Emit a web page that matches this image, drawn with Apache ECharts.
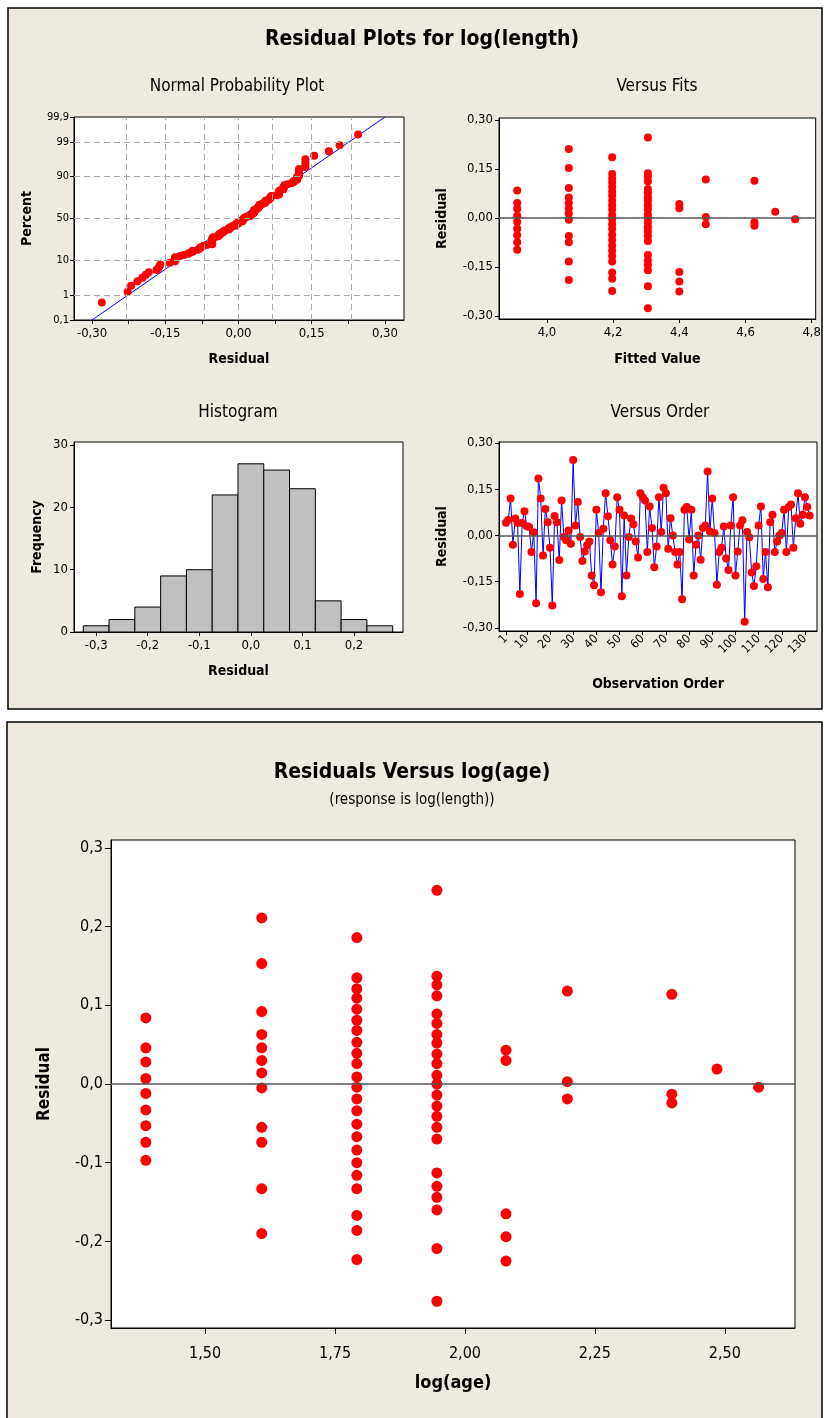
<!DOCTYPE html>
<html>
<head>
<meta charset="utf-8">
<title>Residual Plots for log(length)</title>
<script src="https://cdn.jsdelivr.net/npm/echarts@6/dist/echarts.min.js"></script>
<style>
  html, body { margin: 0; padding: 0; background: #fff; }
  #chart { width: 824px; height: 1418px; }
</style>
</head>
<body>
<div id="chart"></div>
<script>
// ---- data ----
// residuals in observation order (Versus Order panel)
const residualsByOrder = [
  0.041, 0.05, 0.12, -0.03, 0.055, 0.04, -0.19, 0.04, 0.078, 0.03,
  0.027, -0.054, 0.01, -0.22, 0.185, 0.12, -0.065, 0.086, 0.043, -0.04,
  -0.227, 0.063, 0.043, -0.08, 0.113, -0.005, -0.016, 0.016, -0.027, 0.245,
  0.032, 0.108, -0.005, -0.083, -0.052, -0.032, -0.02, -0.13, -0.162, 0.083,
  0.008, -0.184, 0.022, 0.137, 0.062, -0.016, -0.094, -0.036, 0.124, 0.083,
  -0.197, 0.065, -0.13, -0.005, 0.055, 0.036, -0.02, -0.072, 0.137, 0.124,
  0.113, -0.054, 0.094, 0.024, -0.103, -0.036, 0.124, 0.011, 0.155, 0.137,
  -0.043, 0.056, 0, -0.054, -0.094, -0.054, -0.207, 0.083, 0.092, -0.013,
  0.083, -0.13, -0.03, 0, -0.079, 0.024, 0.032, 0.207, 0.013, 0.12,
  0.008, -0.16, -0.054, -0.04, 0.029, -0.075, -0.112, 0.032, 0.124, -0.13,
  -0.052, 0.032, 0.049, -0.28, 0.011, -0.006, -0.12, -0.164, -0.1, 0.032,
  0.094, -0.141, -0.054, -0.168, 0.043, 0.067, -0.054, -0.02, 0, 0.008,
  0.083, -0.054, 0.092, 0.1, -0.04, 0.056, 0.137, 0.038, 0.067, 0.124,
  0.092, 0.065
];

// residuals grouped by age (same groups in Versus Fits and Residuals Versus log(age))
const resAge4  = [0.084, 0.046, 0.028, 0.007, -0.012, -0.033, -0.053, -0.074, -0.097];
const resAge5  = [0.211, 0.153, 0.092, 0.063, 0.046, 0.030, 0.014, -0.005, -0.055, -0.074, -0.133, -0.190];
const resAge6  = [0.186, 0.135, 0.121, 0.109, 0.095, 0.081, 0.068, 0.053, 0.039, 0.026, 0.009, -0.004,
                  -0.019, -0.034, -0.051, -0.067, -0.084, -0.100, -0.116, -0.133, -0.167, -0.186, -0.223];
const resAge7  = [0.246, 0.137, 0.126, 0.112, 0.089, 0.077, 0.063, 0.052, 0.038, 0.026, 0.011, 0.000,
                  -0.014, -0.028, -0.041, -0.055, -0.070, -0.113, -0.130, -0.144, -0.160, -0.209, -0.276];
const resAge8  = [0.043, 0.030, -0.165, -0.194, -0.225];
const resAge9  = [0.118, 0.003, -0.019];
const resAge11 = [0.114, -0.013, -0.024];
const resAge12 = [0.019];
const resAge13 = [-0.004];
const groupResiduals = [resAge4, resAge5, resAge6, resAge7, resAge8, resAge9, resAge11, resAge12, resAge13];
const fittedValues = [3.91, 4.066, 4.197, 4.305, 4.40, 4.48, 4.627, 4.69, 4.75];
const logAge = [1.386, 1.609, 1.792, 1.946, 2.079, 2.197, 2.398, 2.485, 2.565];

// histogram
const histCenters = [-0.30, -0.25, -0.20, -0.15, -0.10, -0.05, 0.00, 0.05, 0.10, 0.15, 0.20, 0.25];
const histCounts = [1, 2, 4, 9, 10, 22, 27, 26, 23, 5, 2, 1];
const binWidth = 0.05;

// normal probability plot
const percentTicks = [0.1, 1, 10, 50, 90, 99, 99.9];
const percentLabels = ['0,1', '1', '10', '50', '90', '99', '99,9'];
const nppGridX = [-0.30, -0.225, -0.15, -0.075, 0, 0.075, 0.15, 0.225, 0.30];
const nppLabelX = [-0.30, -0.15, 0, 0.15, 0.30];
const fitLineX = [-0.30, 0.30];
const fitLineZ = [-3.09, 3.09];

// tick labels
const fitsTicks = [4.0, 4.2, 4.4, 4.6, 4.8];
const residTicks = [-0.30, -0.15, 0, 0.15, 0.30];
const histTicks = [-0.3, -0.2, -0.1, 0, 0.1, 0.2];
const orderTicks = [1, 10, 20, 30, 40, 50, 60, 70, 80, 90, 100, 110, 120, 130];
const ageTicks = [1.50, 1.75, 2.00, 2.25, 2.50];
const bigResidTicks = [-0.3, -0.2, -0.1, 0, 0.1, 0.2, 0.3];

// ---- helpers ----
const FONT = "'DejaVu Sans Condensed', 'Liberation Sans Narrow', 'Liberation Sans', sans-serif";
const BG = '#EEEAE0';
const comma = (v, d) => v.toFixed(d).replace('.', ',');

// inverse standard normal (Acklam)
function invNorm(p) {
  const a = [-39.69683028665376, 220.9460984245205, -275.9285104469687, 138.3577518672690, -30.66479806614716, 2.506628277459239];
  const b = [-54.47609879822406, 161.5858368580409, -155.6989798598866, 66.80131188771972, -13.28068155288572];
  const c = [-0.007784894002430293, -0.3223964580411365, -2.400758277161838, -2.549732539343734, 4.374664141464968, 2.938163982698783];
  const d = [0.007784695709041462, 0.3224671290700398, 2.445134137142996, 3.754408661907416];
  const pl = 0.02425;
  let q, r;
  if (p < pl) {
    q = Math.sqrt(-2 * Math.log(p));
    return (((((c[0]*q+c[1])*q+c[2])*q+c[3])*q+c[4])*q+c[5]) / ((((d[0]*q+d[1])*q+d[2])*q+d[3])*q+1);
  }
  if (p <= 1 - pl) {
    q = p - 0.5; r = q * q;
    return (((((a[0]*r+a[1])*r+a[2])*r+a[3])*r+a[4])*r+a[5])*q / (((((b[0]*r+b[1])*r+b[2])*r+b[3])*r+b[4])*r+1);
  }
  q = Math.sqrt(-2 * Math.log(1 - p));
  return -(((((c[0]*q+c[1])*q+c[2])*q+c[3])*q+c[4])*q+c[5]) / ((((d[0]*q+d[1])*q+d[2])*q+d[3])*q+1);
}

const percentZ = percentTicks.map(p => invNorm(p / 100));
const zMin = percentZ[0];
const zMax = percentZ[percentZ.length - 1];
const sorted = residualsByOrder.slice().sort((x, y) => x - y);
const n = sorted.length;
const nppData = sorted.map((r, i) => [r, invNorm((i + 1 - 0.3) / (n + 0.4))]);

const fitsData = [];
const ageData = [];
groupResiduals.forEach((g, gi) => {
  g.forEach(r => {
    fitsData.push([fittedValues[gi], r]);
    ageData.push([logAge[gi], r]);
  });
});
const orderData = residualsByOrder.map((r, i) => [i + 1, r]);
const histData = histCenters.map((c, i) => [c, histCounts[i]]);

// common axis pieces
const labelStyle = (size) => ({ color: '#000', fontSize: size, fontFamily: FONT });
const nameStyle = (size) => ({ color: '#000', fontSize: size, fontFamily: FONT, fontWeight: 'bold' });
const axisLine = { show: true, onZero: false, lineStyle: { color: '#000', width: 1 } };
const tick = (vals, len) => ({ show: true, length: len, customValues: vals, lineStyle: { color: '#000' } });
const zeroLine = {
  silent: true, symbol: ['none', 'none'], label: { show: false },
  lineStyle: { color: '#555', width: 1.5, type: 'solid' },
  data: [{ yAxis: 0 }]
};
const red = { color: '#ff0000', opacity: 1 };

const gridBox = { show: true, backgroundColor: '#fff', borderColor: '#000', borderWidth: 1 };

const option = {
  backgroundColor: '#fff',
  animation: false,
  graphic: [
    { type: 'rect', z: -10, shape: { x: 8, y: 8, width: 814, height: 701 }, style: { fill: BG, stroke: '#000', lineWidth: 1.5 } },
    { type: 'rect', z: -10, shape: { x: 7, y: 722, width: 815, height: 710 }, style: { fill: BG, stroke: '#000', lineWidth: 1.5 } },
    { type: 'text', x: 422, y: 40, style: { text: 'Residual Plots for log(length)', textAlign: 'center', textVerticalAlign: 'middle', fontSize: 21, fontWeight: 'bold', fontFamily: FONT, fill: '#000' } },
    { type: 'text', x: 237, y: 87, style: { text: 'Normal Probability Plot', textAlign: 'center', textVerticalAlign: 'middle', fontSize: 17, fontFamily: FONT, fill: '#000' } },
    { type: 'text', x: 657, y: 87, style: { text: 'Versus Fits', textAlign: 'center', textVerticalAlign: 'middle', fontSize: 17, fontFamily: FONT, fill: '#000' } },
    { type: 'text', x: 238, y: 413, style: { text: 'Histogram', textAlign: 'center', textVerticalAlign: 'middle', fontSize: 17, fontFamily: FONT, fill: '#000' } },
    { type: 'text', x: 660, y: 413, style: { text: 'Versus Order', textAlign: 'center', textVerticalAlign: 'middle', fontSize: 17, fontFamily: FONT, fill: '#000' } },
    { type: 'text', x: 412, y: 773, style: { text: 'Residuals Versus log(age)', textAlign: 'center', textVerticalAlign: 'middle', fontSize: 21, fontWeight: 'bold', fontFamily: FONT, fill: '#000' } },
    { type: 'text', x: 412, y: 800, style: { text: '(response is log(length))', textAlign: 'center', textVerticalAlign: 'middle', fontSize: 15, fontFamily: FONT, fill: '#000' } }
  ],
  grid: [
    Object.assign({ left: 74, top: 117, width: 330, height: 203 }, gridBox),
    Object.assign({ left: 499, top: 118, width: 318, height: 201 }, gridBox),
    Object.assign({ left: 74, top: 442, width: 329, height: 190 }, gridBox),
    Object.assign({ left: 499, top: 442, width: 318, height: 189 }, gridBox),
    Object.assign({ left: 111, top: 840, width: 684, height: 488 }, gridBox)
  ],
  xAxis: [
    { gridIndex: 0, type: 'value', min: -0.337, max: 0.339, axisLine, splitLine: { show: false },
      axisTick: tick(nppGridX, 4),
      axisLabel: Object.assign({ customValues: nppLabelX, margin: 7, formatter: v => comma(v, 2) }, labelStyle(13)),
      name: 'Residual', nameLocation: 'middle', nameGap: 32, nameTextStyle: nameStyle(14) },
    { gridIndex: 1, type: 'value', min: 3.855, max: 4.812, axisLine, splitLine: { show: false },
      axisTick: tick(fitsTicks, 4),
      axisLabel: Object.assign({ customValues: fitsTicks, margin: 7, formatter: v => comma(v, 1) }, labelStyle(13)),
      name: 'Fitted Value', nameLocation: 'middle', nameGap: 33, nameTextStyle: nameStyle(14) },
    { gridIndex: 2, type: 'value', min: -0.343, max: 0.295, axisLine, splitLine: { show: false },
      axisTick: tick(histTicks, 4),
      axisLabel: Object.assign({ customValues: histTicks, margin: 7, formatter: v => comma(v, 1) }, labelStyle(13)),
      name: 'Residual', nameLocation: 'middle', nameGap: 32, nameTextStyle: nameStyle(14) },
    { gridIndex: 3, type: 'value', min: -2, max: 135.2, axisLine, splitLine: { show: false },
      axisTick: tick(orderTicks, 4),
      axisLabel: Object.assign({ customValues: orderTicks, margin: 6, rotate: 45, formatter: v => String(v) }, labelStyle(12)),
      name: 'Observation Order', nameLocation: 'middle', nameGap: 46, nameTextStyle: nameStyle(14) },
    { gridIndex: 4, type: 'value', min: 1.319, max: 2.635, axisLine, splitLine: { show: false },
      axisTick: tick(ageTicks, 6),
      axisLabel: Object.assign({ customValues: ageTicks, margin: 18, formatter: v => comma(v, 2) }, labelStyle(16)),
      name: 'log(age)', nameLocation: 'middle', nameGap: 46, nameTextStyle: nameStyle(18) }
  ],
  yAxis: [
    { gridIndex: 0, type: 'value', min: zMin, max: zMax, axisLine, splitLine: { show: false },
      axisTick: tick(percentZ, 4),
      axisLabel: Object.assign({ customValues: percentZ, margin: 5, showMinLabel: true, showMaxLabel: true,
        formatter: v => {
          let best = 0;
          percentZ.forEach((z, i) => { if (Math.abs(z - v) < Math.abs(percentZ[best] - v)) best = i; });
          return percentLabels[best];
        } }, labelStyle(11)),
      name: 'Percent', nameLocation: 'middle', nameGap: 40, nameTextStyle: nameStyle(14) },
    { gridIndex: 1, type: 'value', min: -0.309, max: 0.306, axisLine, splitLine: { show: false },
      axisTick: tick(residTicks, 4),
      axisLabel: Object.assign({ customValues: residTicks, margin: 6, formatter: v => comma(v, 2) }, labelStyle(13)),
      name: 'Residual', nameLocation: 'middle', nameGap: 50, nameTextStyle: nameStyle(14) },
    { gridIndex: 2, type: 'value', min: 0, max: 30.5, interval: 10, axisLine, splitLine: { show: false },
      axisTick: { show: true, length: 4, lineStyle: { color: '#000' } },
      axisLabel: Object.assign({ margin: 6 }, labelStyle(13)),
      name: 'Frequency', nameLocation: 'middle', nameGap: 30, nameTextStyle: nameStyle(14) },
    { gridIndex: 3, type: 'value', min: -0.31, max: 0.303, axisLine, splitLine: { show: false },
      axisTick: tick(residTicks, 4),
      axisLabel: Object.assign({ customValues: residTicks, margin: 6, formatter: v => comma(v, 2) }, labelStyle(13)),
      name: 'Residual', nameLocation: 'middle', nameGap: 50, nameTextStyle: nameStyle(14) },
    { gridIndex: 4, type: 'value', min: -0.31, max: 0.31, axisLine, splitLine: { show: false },
      axisTick: tick(bigResidTicks, 6),
      axisLabel: Object.assign({ customValues: bigResidTicks, margin: 8, formatter: v => comma(v, 1) }, labelStyle(16)),
      name: 'Residual', nameLocation: 'middle', nameGap: 58, nameTextStyle: nameStyle(17) }
  ],
  series: [
    // normal probability: fitted line + dashed reference grid
    { type: 'line', xAxisIndex: 0, yAxisIndex: 0, silent: true, showSymbol: false,
      data: fitLineX.map((x, i) => [x, fitLineZ[i]]),
      lineStyle: { color: '#0000ff', width: 1 },
      markLine: {
        silent: true, symbol: ['none', 'none'], label: { show: false },
        lineStyle: { color: '#aaa', width: 1, type: [6, 4] },
        data: nppGridX.slice(1, -1).map(x => ({ xAxis: x }))
          .concat(percentZ.slice(1, -1).map(z => ({ yAxis: z })))
      },
      z: 1 },
    { type: 'scatter', xAxisIndex: 0, yAxisIndex: 0, data: nppData, symbolSize: 8,
      itemStyle: red, z: 3 },
    // versus fits
    { type: 'scatter', xAxisIndex: 1, yAxisIndex: 1, data: fitsData, symbolSize: 8,
      itemStyle: red, markLine: zeroLine, z: 3 },
    // histogram
    { type: 'custom', xAxisIndex: 2, yAxisIndex: 2, data: histData, encode: { x: 0, y: 1 },
      renderItem: (params, api) => {
        const c = api.value(0), cnt = api.value(1);
        const p0 = api.coord([c - binWidth / 2, cnt]);
        const p1 = api.coord([c + binWidth / 2, 0]);
        return { type: 'rect', shape: { x: p0[0], y: p0[1], width: p1[0] - p0[0], height: p1[1] - p0[1] },
          style: { fill: '#c0c0c0', stroke: '#000', lineWidth: 1 } };
      } },
    // versus order
    { type: 'line', xAxisIndex: 3, yAxisIndex: 3, data: orderData, symbol: 'circle', symbolSize: 8,
      showAllSymbol: true, lineStyle: { color: '#0000ff', width: 1 }, itemStyle: red,
      markLine: zeroLine, z: 3 },
    // residuals versus log(age)
    { type: 'scatter', xAxisIndex: 4, yAxisIndex: 4, data: ageData, symbolSize: 11,
      itemStyle: red, markLine: zeroLine, z: 3 }
  ]
};

const chart = echarts.init(document.getElementById('chart'), null, { renderer: 'canvas' });
chart.setOption(option);
</script>
</body>
</html>
